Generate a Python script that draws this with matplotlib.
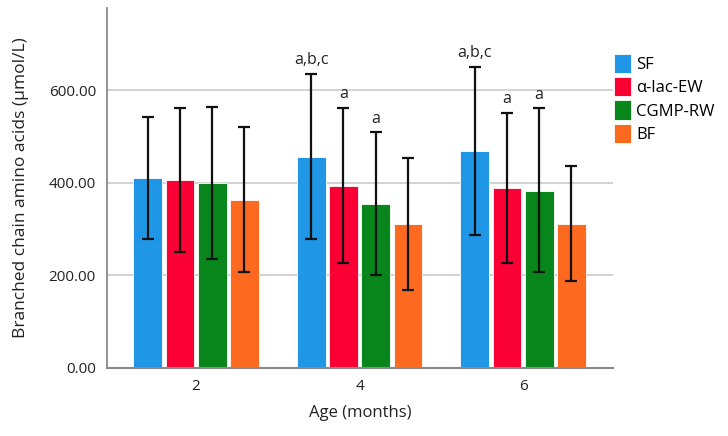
import numpy as np
import matplotlib
matplotlib.use("Agg")
import matplotlib.pyplot as plt

plt.rcParams['font.family'] = ['Open Sans', 'DejaVu Sans']

ages = ['2', '4', '6']
groups = ['SF', 'α-lac-EW', 'CGMP-RW', 'BF']
colors = ['#1f96e6', '#fb0034', '#08861b', '#fd6a1f']

# mean values per group, one entry per age
sf = [409, 456, 468]
alac = [405, 393, 388]
cgmp = [399, 353, 382]
bf = [362, 310, 310]

# error bar ends (lower / upper)
sf_lo = [279, 278, 287]
sf_hi = [542, 636, 650]
alac_lo = [250, 227, 227]
alac_hi = [562, 562, 551]
cgmp_lo = [234, 200, 206]
cgmp_hi = [564, 509, 561]
bf_lo = [206, 168, 187]
bf_hi = [521, 453, 435]

# significance letters
sf_sig = ['', 'a,b,c', 'a,b,c']
alac_sig = ['', 'a', 'a']
cgmp_sig = ['', 'a', 'a']
bf_sig = ['', '', '']

means = [sf, alac, cgmp, bf]
lows = [sf_lo, alac_lo, cgmp_lo, bf_lo]
highs = [sf_hi, alac_hi, cgmp_hi, bf_hi]
sigs = [sf_sig, alac_sig, cgmp_sig, bf_sig]

fig = plt.figure(figsize=(7.28, 4.36), dpi=100)
ax = fig.add_axes([0.147, 0.157, 0.695, 0.825])

x = np.arange(len(ages))
pitch = 0.197
width = 0.176

for y in [200, 400, 600]:
    ax.axhline(y, color='#cfcfcf', lw=1.3, zorder=0)

for i, g in enumerate(groups):
    pos = x + (i - 1.5) * pitch
    m = np.array(means[i])
    lo = m - np.array(lows[i])
    hi = np.array(highs[i]) - m
    ax.bar(pos, m, width=width, color=colors[i], edgecolor='white',
           linewidth=0.6, label=g, zorder=2)
    ax.errorbar(pos, m, yerr=[lo, hi], fmt='none', ecolor='#111111',
                elinewidth=1.6, capsize=4, capthick=1.6, zorder=3)
    for j in range(len(ages)):
        if sigs[i][j]:
            ax.annotate(sigs[i][j], (pos[j], highs[i][j]), xytext=(0, 4),
                        textcoords='offset points', ha='center', va='bottom',
                        fontsize=11.5, color='#222222')

ax.set_xlim(-0.545, 2.55)
ax.set_ylim(0, 778)
ax.set_xticks(x)
ax.set_xticklabels(ages)
ax.set_yticks([0, 200, 400, 600])
ax.set_yticklabels(['%.2f' % v for v in [0, 200, 400, 600]])
ax.tick_params(length=0, labelsize=11, colors='#222222', pad=8)

for s in ['top', 'right']:
    ax.spines[s].set_visible(False)
ax.spines['left'].set_color('#8a8a8a')
ax.spines['bottom'].set_color('#8a8a8a')
ax.spines['left'].set_linewidth(1.3)
ax.spines['bottom'].set_linewidth(1.5)

ax.set_ylabel('Branched chain amino acids (µmol/L)', fontsize=12.5, color='#222222', labelpad=14)
ax.set_xlabel('Age (months)', fontsize=12, color='#222222', labelpad=8)

ax.legend(loc='upper left', bbox_to_anchor=(1.003, 0.873), frameon=False,
          fontsize=12, handlelength=1.0, handleheight=1.4, handletextpad=0.3,
          labelspacing=0.25, borderaxespad=0.0, borderpad=0.0)

fig.savefig('out.png', dpi=100)
